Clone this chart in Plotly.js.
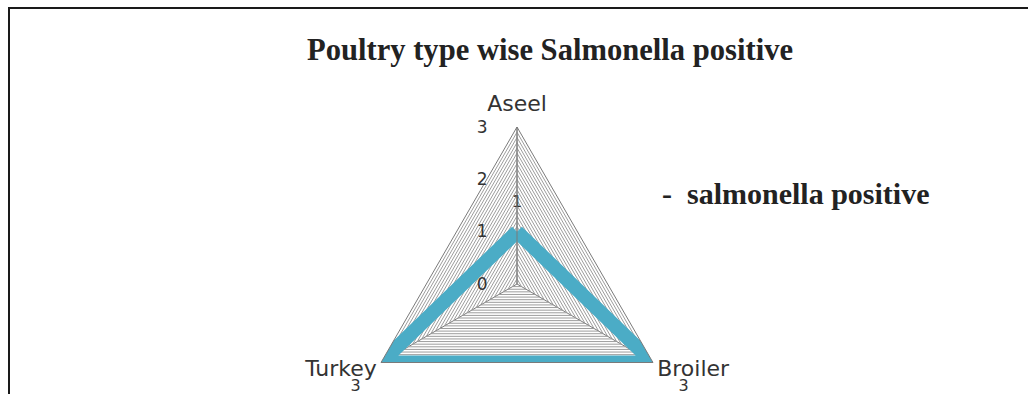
<!DOCTYPE html>
<html>
<head>
<meta charset="utf-8">
<script src="https://cdn.plot.ly/plotly-3.0.1.min.js"></script>
<style>
  html, body { margin: 0; padding: 0; background: #fff; overflow: hidden; width: 1028px; height: 394px; }
  #chart { position: absolute; left: 0; top: 0; width: 1028px; height: 460px; }
  #frameTop { position: absolute; left: 8px; top: 7px; width: 1020px; height: 0; border-top: 2px solid #1a1a1a; }
  #frameLeft { position: absolute; left: 8px; top: 7px; width: 0; height: 400px; border-left: 2px solid #1a1a1a; }
</style>
</head>
<body>
<div id="chart"></div>
<div id="frameTop"></div>
<div id="frameLeft"></div>
<script>
// ---- data ----
const categories = ['Aseel', 'Broiler', 'Turkey'];
const salmonellaPositive = [1, 3, 3];
const seriesName = 'salmonella positive';
const chartTitle = 'Poultry type wise Salmonella positive';
const radialTickValues = [0, 0.1, 0.2, 0.3, 0.4, 0.5, 0.6, 0.7, 0.8, 0.9,
                          1, 1.1, 1.2, 1.3, 1.4, 1.5, 1.6, 1.7, 1.8, 1.9,
                          2, 2.1, 2.2, 2.3, 2.4, 2.5, 2.6, 2.7, 2.8, 2.9, 3];
const radialTickText = ['0', '', '', '', '', '', '', '', '', '',
                        '1', '', '', '', '', '', '', '', '', '',
                        '2', '', '', '', '', '', '', '', '', '',
                        '3'];

// data-label placement (style only; the label values come from the data via %{r})
const NB = '\u00a0';
const dataLabelPositions = ['top center', 'bottom right', 'bottom left', 'top center'];
const dataLabelTemplates = ['%{r}<br>' + NB,
                            '<br>' + NB.repeat(5) + '%{r}',
                            '<br>%{r}' + NB.repeat(4),
                            ''];

// closed polygon built from the data arrays
const rClosed = salmonellaPositive.concat([salmonellaPositive[0]]);
const thetaClosed = categories.concat([categories[0]]);

const W = 1028, H = 460;
const cx = 517, cy = 284, R = 157;

const trace = {
  type: 'scatterpolar',
  r: rClosed,
  theta: thetaClosed,
  mode: 'lines+text',
  name: seriesName,
  texttemplate: dataLabelTemplates,
  textposition: dataLabelPositions,
  textfont: { family: 'DejaVu Sans', size: 16, color: '#333' },
  line: { color: '#4BACC6', width: 14 },
  cliponaxis: false,
  showlegend: false,
  hoverinfo: 'r+theta'
};

const layout = {
  width: W,
  height: H,
  margin: { l: 0, r: 0, t: 0, b: 0, pad: 0 },
  paper_bgcolor: '#fff',
  showlegend: false,
  title: {
    text: '<b>' + chartTitle + '</b>',
    font: { family: 'Liberation Serif', size: 30.6, color: '#222' },
    x: 550 / W, xanchor: 'center', xref: 'container',
    y: 1 - 49 / H, yanchor: 'middle', yref: 'container'
  },
  polar: {
    domain: { x: [(cx - R) / W, (cx + R) / W], y: [1 - (cy + R) / H, 1 - (cy - R) / H] },
    bgcolor: '#fff',
    gridshape: 'linear',
    angularaxis: {
      type: 'category',
      categoryarray: categories,
      direction: 'clockwise',
      rotation: 90,
      showline: true,
      linecolor: '#7a7a7a',
      linewidth: 1,
      showgrid: true,
      gridcolor: '#7a7a7a',
      gridwidth: 1,
      ticks: '',
      tickfont: { family: 'DejaVu Sans', size: 22, color: '#333' }
    },
    radialaxis: {
      range: [0, 3],
      angle: 90,
      tickangle: 90,
      side: 'counterclockwise',
      tickmode: 'array',
      tickvals: radialTickValues,
      ticktext: radialTickText,
      ticks: 'outside',
      ticklen: 23,
      tickcolor: 'rgba(0,0,0,0)',
      showline: true,
      linecolor: '#7a7a7a',
      linewidth: 1,
      showgrid: true,
      gridcolor: '#9c9c9c',
      gridwidth: 1,
      tickfont: { family: 'DejaVu Sans', size: 17, color: '#333' }
    }
  },
  annotations: [{
    text: '<b>-  ' + seriesName + '</b>',
    xref: 'paper', yref: 'paper',
    x: 660 / W, xanchor: 'left',
    y: 1 - 193 / H, yanchor: 'middle',
    showarrow: false,
    font: { family: 'Liberation Serif', size: 30, color: '#222' }
  }]
};

Plotly.newPlot('chart', [trace], layout, { staticPlot: true, displayModeBar: false }).then(function (gd) {
  // nudge the category labels slightly closer to the vertices, as in the reference
  gd.querySelectorAll('.angularaxistick').forEach(function (el) {
    var t = el.getAttribute('transform') || '';
    el.setAttribute('transform', 'translate(0,-7) ' + t);
  });
  // lift the two lower data labels a little so they sit on the category names
  gd.querySelectorAll('.scatterlayer .textpoint').forEach(function (el, i) {
    if (i === 1 || i === 2) {
      var t = el.getAttribute('transform') || '';
      el.setAttribute('transform', 'translate(0,-4) ' + t);
    }
  });
});
</script>
</body>
</html>
